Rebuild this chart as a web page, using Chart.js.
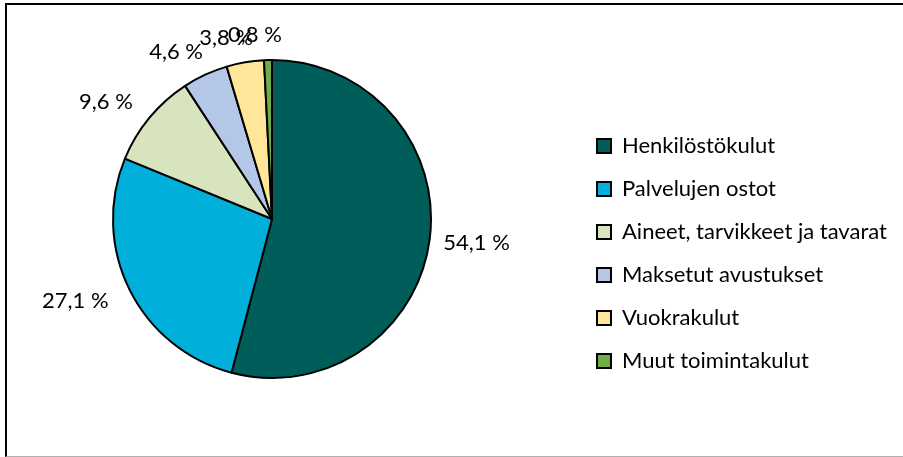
<!DOCTYPE html>
<html lang="fi">
<head>
  <meta charset="UTF-8">
  <title>Toimintakulut</title>
  <script src="https://cdn.jsdelivr.net/npm/chart.js"></script>
  <style>
    html, body { margin: 0; padding: 0; background: #fff; overflow: hidden; }
    #frame {
      position: absolute; left: 5px; top: 3px; width: 1000px; height: 451px;
      border-top: 2px solid #000; border-left: 2px solid #000; border-bottom: 1px solid #b0b0b0;
    }
    #chart { position: absolute; left: 0; top: 0; }
  </style>
</head>
<body>
  <div id="frame"></div>
  <canvas id="chart" width="903" height="457"></canvas>

  <script>
    const categories = [
      "Henkilöstökulut",
      "Palvelujen ostot",
      "Aineet, tarvikkeet ja tavarat",
      "Maksetut avustukset",
      "Vuokrakulut",
      "Muut toimintakulut"
    ];
    const shares = [54.1, 27.1, 9.6, 4.6, 3.8, 0.8];
    const colors = ["#005E5A", "#00B0DA", "#D7E4BD", "#B4C7E7", "#FFE699", "#70AD47"];

    const fontFamily = "Lato, 'Open Sans', sans-serif";
    Chart.defaults.font.family = fontFamily;
    Chart.defaults.color = "#000";

    const pieX = 272;     // pie centre
    const legendX = 576;  // left edge of the legend box

    // put the legend and the pie where the original has them
    const placeBoxes = {
      id: "placeBoxes",
      afterLayout(chart) {
        const lg = chart.legend;
        const w = lg.width;
        lg.left = legendX;
        lg.right = legendX + w;
        const a = chart.chartArea;
        a.right = legendX;
        a.left = 2 * pieX - legendX;
        a.width = a.right - a.left;
      }
    };

    // percent labels just outside each slice
    const sliceLabels = {
      id: "sliceLabels",
      afterDatasetsDraw(chart) {
        const ctx = chart.ctx;
        const arcs = chart.getDatasetMeta(0).data;
        ctx.save();
        ctx.font = "22px " + fontFamily;
        ctx.fillStyle = "#000";
        ctx.textAlign = "center";
        ctx.textBaseline = "middle";
        arcs.forEach((arc, i) => {
          const p = arc.getProps(["x", "y", "startAngle", "endAngle", "outerRadius"], true);
          const mid = (p.startAngle + p.endAngle) / 2;
          const text = shares[i].toFixed(1).replace(".", ",") + " %";
          const w = ctx.measureText(text).width;
          const r = p.outerRadius + 14;
          const c = Math.cos(mid);
          const cx = p.x + c * (r + w / 2) - (c < 0 ? 12 : 0);
          const cy = p.y + Math.sin(mid) * (r + 11);
          ctx.fillText(text, cx, cy);
        });
        ctx.restore();
      }
    };

    new Chart(document.getElementById("chart"), {
      type: "pie",
      data: {
        labels: categories,
        datasets: [{
          data: shares,
          backgroundColor: colors,
          borderColor: "#000",
          borderWidth: 2
        }]
      },
      options: {
        responsive: false,
        animation: false,
        radius: 159,
        layout: {
          padding: { left: 0, right: 0, top: 45, bottom: 64 }
        },
        plugins: {
          tooltip: { enabled: false },
          legend: {
            position: "right",
            align: "end",
            labels: {
              boxWidth: 14,
              boxHeight: 14,
              padding: 21,
              font: { size: 22 },
              color: "#000"
            }
          }
        }
      },
      plugins: [placeBoxes, sliceLabels]
    });
  </script>
</body>
</html>
